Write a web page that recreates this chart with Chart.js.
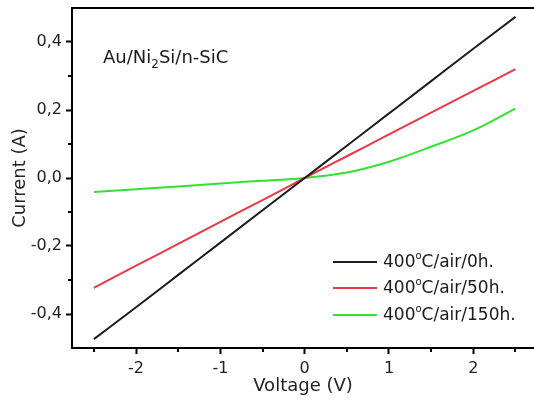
<!DOCTYPE html>
<html>
<head>
<meta charset="utf-8">
<script src="https://cdn.jsdelivr.net/npm/chart.js@4.4.1/dist/chart.umd.min.js"></script>
<style>
  body { margin: 0; background: #fff; }
</style>
</head>
<body>
<canvas id="mycanvas" width="534" height="401"></canvas>
<script>
var voltage = [-2.5, -2, -1.5, -1, -0.5, 0, 0.5, 1, 1.5, 2, 2.5];
var current0h   = [-0.474, -0.380, -0.285, -0.190, -0.095, 0.0, 0.095, 0.190, 0.285, 0.380, 0.474];
var current50h  = [-0.323, -0.258, -0.194, -0.129, -0.065, 0.0, 0.064, 0.128, 0.192, 0.256, 0.320];
var current150h = [-0.041, -0.033, -0.025, -0.016, -0.008, 0.0, 0.016, 0.048, 0.092, 0.140, 0.204];

var xTicks = [-2, -1, 0, 1, 2];
var xMinor = [-2.5, -1.5, -0.5, 0.5, 1.5, 2.5];
var yTicks = [-0.4, -0.2, 0, 0.2, 0.4];
var yMinor = [-0.3, -0.1, 0.1, 0.3];
var legendNames = ['0h.', '50h.', '150h.'];
var colors = ['#1c1c1c', '#e63946', '#33e033'];

function pairs(ys) {
	var out = [];
	for (var i in voltage) {
		out.push({x: voltage[i], y: ys[i]});
	}
	return out;
}

// draws the frame top, minor ticks, the sample label and the legend
var extras = {
	id: 'extras',
	afterDraw: function(chart) {
		var ctx = chart.ctx;
		var a = chart.chartArea;
		var xs = chart.scales.x, ys = chart.scales.y;
		ctx.save();
		ctx.strokeStyle = '#000';
		ctx.lineWidth = 2;
		ctx.beginPath();
		ctx.moveTo(a.left - 1, a.top);
		ctx.lineTo(a.right, a.top);
		ctx.stroke();

		// minor ticks
		ctx.beginPath();
		xMinor.forEach(function(v) {
			var px = Math.round(xs.getPixelForValue(v));
			ctx.moveTo(px, a.bottom);
			ctx.lineTo(px, a.bottom + 4);
		});
		yMinor.forEach(function(v) {
			var py = Math.round(ys.getPixelForValue(v));
			ctx.moveTo(a.left, py);
			ctx.lineTo(a.left - 4, py);
		});
		ctx.stroke();

		// sample label Au/Ni2Si/n-SiC
		ctx.fillStyle = '#1a1a1a';
		ctx.textBaseline = 'alphabetic';
		ctx.textAlign = 'left';
		var x = 103, y = 63;
		ctx.font = '18px "DejaVu Sans"';
		ctx.fillText('Au/Ni', x, y);
		x += ctx.measureText('Au/Ni').width;
		ctx.font = '12px "DejaVu Sans"';
		ctx.fillText('2', x, y + 5);
		x += ctx.measureText('2').width;
		ctx.font = '18px "DejaVu Sans"';
		ctx.fillText('Si/n-SiC', x, y);

		// legend
		var rowY = [262, 288, 315];
		for (var i = 0; i < 3; i++) {
			ctx.strokeStyle = colors[i];
			ctx.lineWidth = 2;
			ctx.beginPath();
			ctx.moveTo(333, rowY[i]);
			ctx.lineTo(377, rowY[i]);
			ctx.stroke();
			var tx = 383, base = rowY[i] + 5;
			ctx.font = '17px "DejaVu Sans"';
			ctx.fillText('400', tx, base);
			tx += ctx.measureText('400').width;
			ctx.font = '10px "DejaVu Sans"';
			ctx.fillText('o', tx, base - 8);
			tx += ctx.measureText('o').width;
			ctx.font = '17px "DejaVu Sans"';
			ctx.fillText('C/air/' + legendNames[i], tx, base);
		}
		ctx.restore();
	}
};

var chartdata = {
	datasets: [
		{label: '400°C/air/0h.',   data: pairs(current0h),   borderColor: colors[0]},
		{label: '400°C/air/50h.',  data: pairs(current50h),  borderColor: colors[1]},
		{label: '400°C/air/150h.', data: pairs(current150h), borderColor: colors[2]}
	]
};

var tickFont = {family: 'DejaVu Sans', size: 16};
var titleFont = {family: 'DejaVu Sans', size: 18};

var x = document.getElementById('mycanvas');
var graph = new Chart(x, {
	type: 'line',
	data: chartdata,
	options: {
		responsive: false,
		animation: false,
		layout: {padding: {top: 8, left: 0, right: 0, bottom: 0}},
		elements: {
			point: {radius: 0},
			line: {borderWidth: 2, cubicInterpolationMode: 'monotone'}
		},
		plugins: {legend: {display: false}, tooltip: {enabled: false}},
		scales: {
			x: {
				type: 'linear',
				min: -2.76,
				max: 2.72,
				afterBuildTicks: function(s) { s.ticks = xTicks.map(function(v) { return {value: v}; }); },
				afterFit: function(s) { s.height = 53; s.paddingLeft = 0; s.paddingRight = 0; },
				grid: {drawOnChartArea: false, tickLength: 6, tickColor: '#000', tickWidth: 2},
				border: {color: '#000', width: 2},
				ticks: {font: tickFont, color: '#222', padding: 5, maxRotation: 0},
				title: {display: true, text: 'Voltage (V)', font: titleFont, color: '#222', padding: {top: 0, bottom: 4}}
			},
			y: {
				min: -0.5,
				max: 0.5,
				afterBuildTicks: function(s) { s.ticks = yTicks.map(function(v) { return {value: v}; }); },
				afterFit: function(s) { s.width = 72; s.paddingTop = 0; s.paddingBottom = 0; },
				grid: {drawOnChartArea: false, tickLength: 6, tickColor: '#000', tickWidth: 2},
				border: {color: '#000', width: 2},
				ticks: {font: tickFont, color: '#222', padding: 4,
					callback: function(v) { return v.toFixed(1).replace('.', ','); }},
				title: {display: true, text: 'Current (A)', font: titleFont, color: '#222', padding: {top: 10, bottom: 0}}
			}
		}
	},
	plugins: [extras]
});
</script>
</body>
</html>
